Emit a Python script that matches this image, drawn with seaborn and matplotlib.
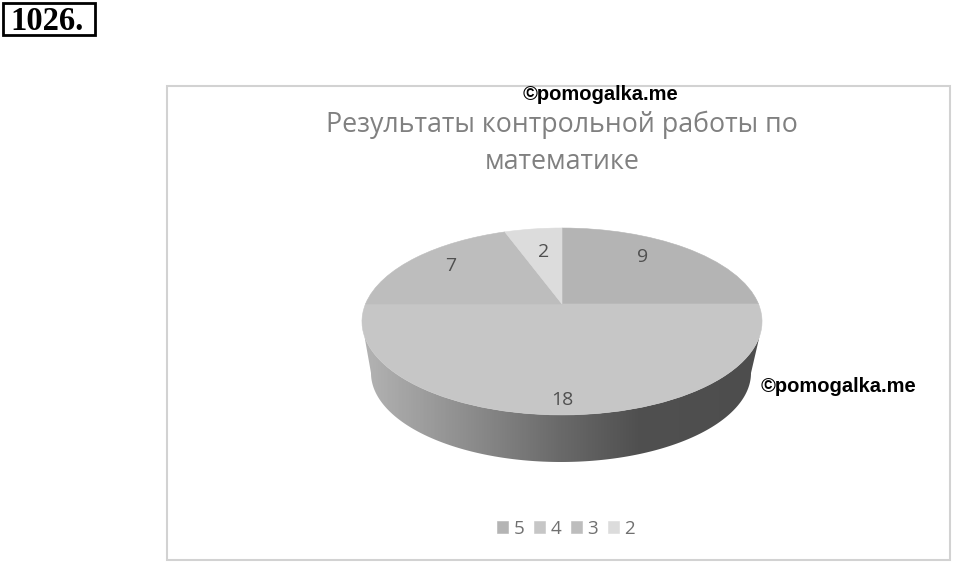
import numpy as np
import matplotlib
matplotlib.use("Agg")
import matplotlib.pyplot as plt
import seaborn as sns
from matplotlib.colors import LinearSegmentedColormap
from matplotlib.patches import Polygon, Rectangle
from matplotlib.transforms import Transform

# Data
grades = ["5", "4", "3", "2"]
pupils = [9, 18, 7, 2]
title_lines = ["Результаты контрольной работы по", "математике"]
exercise = "1026."
watermark = "©pomogalka.me"
slice_greys = ["#b4b4b4", "#c6c6c6", "#bdbdbd", "#dcdcdc"]
label_radii = [0.74, 0.885, 0.765, 0.655]
label_shift_deg = [-7.0, 0.0, 1.7, 1.0]

sns.set_theme(style="white")
plt.rcParams["font.family"] = ["Open Sans", "DejaVu Sans"]

CX, CY, RX, RY, P = 562.0, 304.0, 196.5, 90.2, 0.187


class Perspective(Transform):
    """Tilts the unit pie disc into page pixels, near edge larger."""
    input_dims = output_dims = 2
    has_inverse = False

    def transform_non_affine(self, values):
        v = np.asarray(values, dtype=float)
        w = 1 + P * v[:, 1]
        return np.column_stack([CX + RX * v[:, 0] / w, CY - RY * v[:, 1] / w])


fig = plt.figure(figsize=(9.6, 5.63), dpi=100)
ax = fig.add_axes([0, 0, 1, 1])

wedges, _ = ax.pie(
    pupils, colors=sns.color_palette(slice_greys), startangle=90, counterclock=False,
    wedgeprops=dict(linewidth=0.4, zorder=3),
)
persp = Perspective()
tilt = persp + ax.transData
for w in wedges:
    w.set_transform(tilt)
    w.set_edgecolor(w.get_facecolor())

# Value labels
edges = np.cumsum([0] + pupils) / sum(pupils) * 2 * np.pi
for i, v in enumerate(pupils):
    mid = (edges[i] + edges[i + 1]) / 2 + np.deg2rad(label_shift_deg[i])
    ax.text(label_radii[i] * np.sin(mid), label_radii[i] * np.cos(mid), str(v),
            transform=tilt, ha="center", va="center", fontsize=14, color="#505050", zorder=5)

# Side wall with its horizontal gradient
t = np.linspace(np.pi, 2 * np.pi, 180)
base = np.column_stack([561 + 190 * np.cos(t), 373 + 89 * -np.sin(t)])
u = np.linspace(2 * np.pi - 0.34, np.pi + 0.34, 180)
rim = persp.transform(np.column_stack([np.cos(u), np.sin(u)]))
wall = Polygon(np.vstack([base, rim]), closed=True, transform=ax.transData,
               facecolor="none", edgecolor="none")
ax.add_patch(wall)
shade = LinearSegmentedColormap.from_list(
    "wall", [(0.0, "#b3b3b3"), (0.27, "#8c8c8c"), (0.49, "#6a6a6a"), (0.69, "#505050"), (1.0, "#4d4d4d")])
img = ax.imshow(np.linspace(0, 1, 400)[None, :], cmap=shade, vmin=0, vmax=1, aspect="auto",
                extent=(363, 762, 470, 300), zorder=2)
img.set_clip_path(wall)

# Chart frame, exercise box
ax.add_patch(Rectangle((167, 86), 783, 474, facecolor="white", edgecolor="#d2d2d2", linewidth=1.5, zorder=0))
ax.add_patch(Rectangle((3, 3), 92, 32, facecolor="white", edgecolor="black", linewidth=2, zorder=1))
ax.text(47, 22, exercise, ha="center", va="center", fontsize=23.5, fontweight="bold",
        family=["Liberation Serif"], color="black")

# Title
for line, y in zip(title_lines, [125, 162]):
    ax.text(562, y, line, ha="center", va="center", fontsize=19.3, color="#808080")

# Watermarks
ax.text(523, 94, watermark, ha="left", va="center", fontsize=14.5, fontweight="bold",
        family=["Liberation Sans"], color="black", zorder=6)
ax.text(761, 386, watermark, ha="left", va="center", fontsize=14.5, fontweight="bold",
        family=["Liberation Sans"], color="black", zorder=6)

ax.legend(wedges, grades, loc="center", bbox_to_anchor=(566, 529), bbox_transform=ax.transData,
          ncols=4, frameon=False, fontsize=13.5, labelcolor="#707070", handlelength=0.6,
          handleheight=0.6, handletextpad=0.3, columnspacing=0.5)

ax.set_aspect("auto")
ax.set_xlim(0, 960)
ax.set_ylim(563, 0)
ax.axis("off")
fig.savefig("out.png", dpi=100, facecolor="white")
